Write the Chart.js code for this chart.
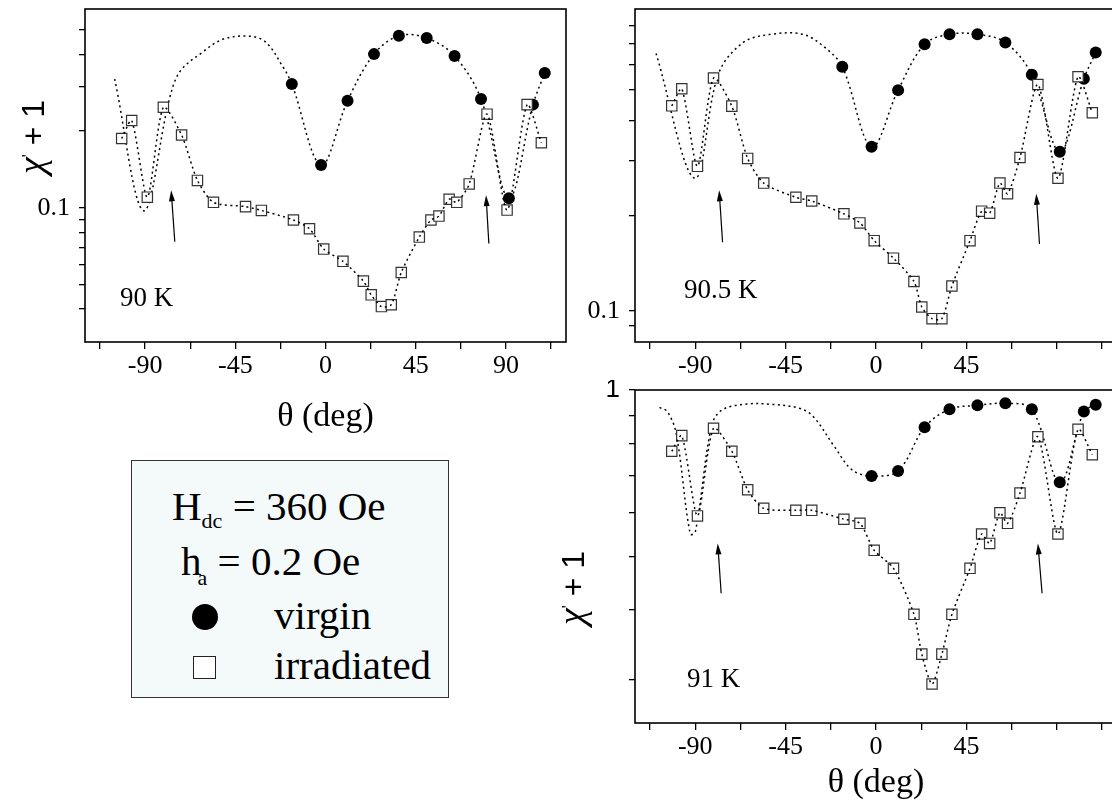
<!DOCTYPE html>
<html>
<head>
<meta charset="utf-8">
<script src="https://cdn.jsdelivr.net/npm/chart.js"></script>
<style>
  html, body { margin: 0; padding: 0; background: #fff; }
  body { width: 1112px; height: 808px; overflow: hidden; position: relative; font-family: 'Liberation Serif', serif; color: #000; }
  canvas { position: absolute; }
  #c90 { left: 0; top: 0; }
  #c905 { left: 550px; top: 0; }
  #c91 { left: 550px; top: 380px; }
  #key { position: absolute; left: 131px; top: 460px; width: 316px; height: 236px; border: 1.5px solid #333; background: #f4fafa; }
  #key .row { position: absolute; white-space: nowrap; font-size: 41px; line-height: 41px; }
  #key .sub { font-size: 22px; position: relative; }
  #key .dot { position: absolute; width: 26px; height: 26px; border-radius: 50%; background: #000; }
  #key .box { position: absolute; width: 23px; height: 23px; box-sizing: border-box; border: 1.5px solid #222; background: #fff; }
</style>
</head>
<body>
<canvas id="c90" width="600" height="450"></canvas>
<canvas id="c905" width="580" height="450"></canvas>
<canvas id="c91" width="580" height="428"></canvas>

<div id="key">
  <div class="row" style="left:40px; top:25px;">H<span class="sub" style="top:8px;">dc</span> = 360 Oe</div>
  <div class="row" style="left:49px; top:80px;">h<span class="sub" style="top:10px; margin-left:-4px;">a</span> = 0.2 Oe</div>
  <div class="dot" style="left:60px; top:143px;"></div>
  <div class="row" style="left:142px; top:134px;">virgin</div>
  <div class="box" style="left:61px; top:195px;"></div>
  <div class="row" style="left:142px; top:184px;">irradiated</div>
</div>

<script>
// angle grid shared by all three temperatures (deg)
const xTicks = [-112.5, -90, -67.5, -45, -22.5, 0, 22.5, 45, 67.5, 90, 112.5];
const xLabelsLeft = [-90, -45, 0, 45, 90];
const xLabelsRight = [-90, -45, 0, 45];

const thetaVirgin = [-16.8, -2.2, 11.0, 24.2, 36.6, 50.5, 64.4, 77.6, 91.5, 103.5, 109.4];
const thetaIrr = [-101.7, -96.7, -88.9, -80.9, -71.8, -63.9, -55.9, -39.9, -32.0, -16.0, -8.0, -0.9,
  8.7, 18.9, 22.8, 27.9, 32.8, 37.8, 46.8, 52.6, 56.6, 61.7, 65.5, 71.7, 80.6, 90.6, 100.6, 107.7];

// 90 K
const chiVirgin90 = [0.306, 0.147, 0.263, 0.401, 0.473, 0.464, 0.394, 0.267, 0.109, 0.254, 0.338];
const chiIrr90 = [0.187, 0.220, 0.110, 0.248, 0.193, 0.128, 0.105, 0.101, 0.0976, 0.0895, 0.0827, 0.0688,
  0.0616, 0.0515, 0.0455, 0.0409, 0.0416, 0.0557, 0.0767, 0.0895, 0.0927, 0.108, 0.105, 0.124, 0.233, 0.0979, 0.254, 0.180];
const thetaFit90 = [-105.2, -90.8, -78.0, -72.7, -62.1, -51.4, -39.0, -30.1, -21.3];
const chiFit90 = [0.320, 0.0973, 0.265, 0.342, 0.404, 0.458, 0.472, 0.449, 0.358];
const yTicks90 = [0.04, 0.05, 0.06, 0.07, 0.08, 0.09, 0.1, 0.2, 0.3, 0.4, 0.5];
const arrows90 = [[-75.2, 0.0735, -77.0, 0.117], [81.5, 0.0724, 80.1, 0.112]];

// 90.5 K
const chiVirgin905 = [0.593, 0.331, 0.500, 0.698, 0.751, 0.751, 0.708, 0.559, 0.319, 0.543, 0.658];
const chiIrr905 = [0.446, 0.505, 0.287, 0.546, 0.445, 0.304, 0.254, 0.229, 0.223, 0.203, 0.190, 0.167,
  0.147, 0.124, 0.103, 0.0946, 0.0946, 0.120, 0.167, 0.207, 0.204, 0.254, 0.235, 0.306, 0.521, 0.263, 0.551, 0.424];
const thetaFit905 = [-109.5, -90.3, -78.5, -66.2, -52.2, -36.5, -25.9];
const chiFit905 = [0.653, 0.263, 0.562, 0.707, 0.751, 0.751, 0.686];
const yTicks905 = [0.09, 0.1, 0.2, 0.3, 0.4, 0.5, 0.6, 0.7, 0.8];
const arrows905 = [[-76.4, 0.165, -78.1, 0.241], [81.4, 0.163, 79.8, 0.235]];

// 91 K (no virgin point at -17 deg)
const chiVirgin91 = [0.699, 0.714, 0.856, 0.923, 0.938, 0.946, 0.923, 0.681, 0.914, 0.940];
const chiIrr91 = [0.775, 0.827, 0.592, 0.853, 0.775, 0.660, 0.611, 0.606, 0.606, 0.584, 0.574, 0.513,
  0.476, 0.393, 0.333, 0.294, 0.333, 0.393, 0.476, 0.549, 0.528, 0.600, 0.574, 0.651, 0.823, 0.549, 0.849, 0.764];
const thetaFit91 = [-107.8, -103.9, -99.5, -92.5, -89.9, -82.0, -76.8, -64.5, -52.2, -38.2, -31.2, -20.7, -11.9];
const chiFit91 = [0.930, 0.914, 0.835, 0.549, 0.555, 0.858, 0.920, 0.943, 0.942, 0.927, 0.895, 0.790, 0.717];
const yTicks91 = [0.3, 0.4, 0.5, 0.6, 0.7, 0.8, 0.9, 1];
const arrows91 = [[-77.1, 0.429, -78.8, 0.528], [82.7, 0.429, 80.6, 0.528]];

const serif = 'Liberation Serif';
const sans = 'Liberation Sans';
const dots = [2, 3.4];

const pts = (xs, ys) => xs.map((x, i) => ({x: x, y: ys[i]}));

// box around the plotting area
const frame = {
  id: 'frame',
  afterDatasetsDraw(chart) {
    const {ctx, chartArea: a} = chart;
    ctx.save();
    ctx.strokeStyle = '#000';
    ctx.lineWidth = 1.6;
    ctx.strokeRect(a.left, a.top, a.right - a.left, a.bottom - a.top);
    ctx.restore();
  }
};

function arrowsPlugin(list) {
  return {
    id: 'arrows',
    afterDatasetsDraw(chart) {
      const {ctx, scales: {x, y}} = chart;
      ctx.save();
      ctx.strokeStyle = '#000';
      ctx.fillStyle = '#000';
      ctx.lineWidth = 1.2;
      list.forEach(a => {
        const x0 = x.getPixelForValue(a[0]), y0 = y.getPixelForValue(a[1]);
        const x1 = x.getPixelForValue(a[2]), y1 = y.getPixelForValue(a[3]);
        const ang = Math.atan2(y1 - y0, x1 - x0);
        const c = Math.cos(ang), s = Math.sin(ang);
        ctx.beginPath();
        ctx.moveTo(x0, y0);
        ctx.lineTo(x1 - 8 * c, y1 - 8 * s);
        ctx.stroke();
        ctx.beginPath();
        ctx.moveTo(x1, y1);
        ctx.lineTo(x1 - 11 * c + 3 * s, y1 - 11 * s - 3 * c);
        ctx.lineTo(x1 - 11 * c - 3 * s, y1 - 11 * s + 3 * c);
        ctx.closePath();
        ctx.fill();
      });
      ctx.restore();
    }
  };
}

// temperature tag plus, where given, the rotated χ' + 1 axis title
function textPlugin(tag, yTitle) {
  return {
    id: 'texts',
    afterDraw(chart) {
      const {ctx, chartArea: a} = chart;
      ctx.save();
      ctx.fillStyle = '#000';
      ctx.font = '27px "' + serif + '"';
      ctx.textBaseline = 'alphabetic';
      ctx.fillText(tag.text, a.left + tag.dx, a.top + tag.dy);
      if (yTitle) {
        const parts = [
          { t: 'χ', f: 'italic 38px "' + serif + '"', dy: 0 },
          { t: "'", f: '16px "' + sans + '"', dy: -10 },
          { t: ' + 1', f: '32px "' + sans + '"', dy: 0 }
        ];
        let w = 0;
        parts.forEach(p => { ctx.font = p.f; p.w = ctx.measureText(p.t).width; w += p.w; });
        ctx.translate(yTitle.x, yTitle.y);
        ctx.rotate(-Math.PI / 2);
        let x = -w / 2;
        parts.forEach(p => {
          ctx.font = p.f;
          ctx.fillText(p.t, x, 11 + p.dy);
          x += p.w;
        });
      }
      ctx.restore();
    }
  };
}

function makePanel(id, p) {
  return new Chart(document.getElementById(id), {
    type: 'scatter',
    data: {
      datasets: [
        { // virgin trend, carried across the range
          data: pts(p.fitX.concat(p.virX), p.fitY.concat(p.virY)),
          showLine: true, borderColor: '#000', borderWidth: 1.5, borderDash: dots,
          pointRadius: 0, tension: 0.35, order: 4
        },
        { // virgin
          data: pts(p.virX, p.virY),
          pointStyle: 'circle', pointRadius: 6, backgroundColor: '#000', borderColor: '#000',
          borderWidth: 0, order: 3
        },
        { // irradiated
          data: pts(thetaIrr, p.irrY),
          pointStyle: 'rect', pointRadius: 7.3, backgroundColor: '#fff', borderColor: '#333',
          borderWidth: 1.2, order: 2
        },
        { // dotted guide through the irradiated points
          data: pts(thetaIrr, p.irrY),
          showLine: true, borderColor: '#000', borderWidth: 1.5, borderDash: dots,
          pointRadius: 0, tension: 0.25, order: 1
        }
      ]
    },
    options: {
      responsive: false,
      animation: false,
      events: [],
      layout: { padding: p.pad },
      plugins: { legend: { display: false }, tooltip: { enabled: false } },
      scales: {
        x: {
          type: 'linear', min: -120, max: 120,
          afterBuildTicks: s => { s.ticks = xTicks.map(v => ({value: v})); },
          afterFit: s => { s.height = p.xH; s.paddingLeft = 0; s.paddingRight = 0; },
          grid: { drawOnChartArea: false, tickLength: 7, color: '#000', lineWidth: 1.3 },
          border: { display: false },
          ticks: {
            autoSkip: false, maxRotation: 0, minRotation: 0, padding: 2, color: '#000',
            font: { family: serif, size: 26 },
            callback: v => p.xLabels.includes(v) ? String(v) : ''
          },
          title: p.xTitle === undefined ? { display: false } : {
            display: true, text: 'θ (deg)', color: '#000',
            font: { family: serif, size: 34, lineHeight: 1.2 },
            padding: { top: 0, bottom: p.xTitle }
          }
        },
        y: {
          type: 'logarithmic', min: p.yMin, max: p.yMax,
          afterBuildTicks: s => { s.ticks = p.yTicks.map(v => ({value: v})); },
          afterFit: s => { s.width = 85; s.paddingTop = 0; s.paddingBottom = 0; },
          grid: { drawOnChartArea: false, tickLength: 6, color: '#000', lineWidth: 1.3 },
          border: { display: false },
          ticks: {
            autoSkip: false, padding: 9, color: '#000',
            font: { family: p.yFont, size: 26 },
            callback: v => p.yLabels.includes(v) ? String(v) : ''
          }
        }
      }
    },
    plugins: [frame, arrowsPlugin(p.arrows), textPlugin(p.tag, p.yTitle)]
  });
}

makePanel('c90', {
  virX: thetaVirgin, virY: chiVirgin90, irrY: chiIrr90, fitX: thetaFit90, fitY: chiFit90,
  yMin: 0.0297, yMax: 0.603, yTicks: yTicks90, yLabels: [0.1], yFont: serif,
  xLabels: xLabelsLeft, arrows: arrows90, tag: { text: '90 K', dx: 35, dy: 297 },
  pad: { top: 9, right: 34, left: 0, bottom: 0 }, xH: 108, xTitle: 12.6,
  yTitle: { x: 33, y: 137 }
});

makePanel('c905', {
  virX: thetaVirgin, virY: chiVirgin905, irrY: chiIrr905, fitX: thetaFit905, fitY: chiFit905,
  yMin: 0.0798, yMax: 0.903, yTicks: yTicks905, yLabels: [0.1], yFont: serif,
  xLabels: xLabelsRight, arrows: arrows905, tag: { text: '90.5 K', dx: 49, dy: 289 },
  pad: { top: 9, right: 13, left: 0, bottom: 0 }, xH: 108
});

makePanel('c91', {
  virX: thetaVirgin.slice(1), virY: chiVirgin91, irrY: chiIrr91, fitX: thetaFit91, fitY: chiFit91,
  yMin: 0.25, yMax: 1, yTicks: yTicks91, yLabels: [1], yFont: sans,
  xLabels: xLabelsRight, arrows: arrows91, tag: { text: '91 K', dx: 52, dy: 297 },
  pad: { top: 10, right: 13, left: 0, bottom: 0 }, xH: 85, xTitle: 4.6,
  yTitle: { x: 23, y: 208 }
});
</script>
</body>
</html>
